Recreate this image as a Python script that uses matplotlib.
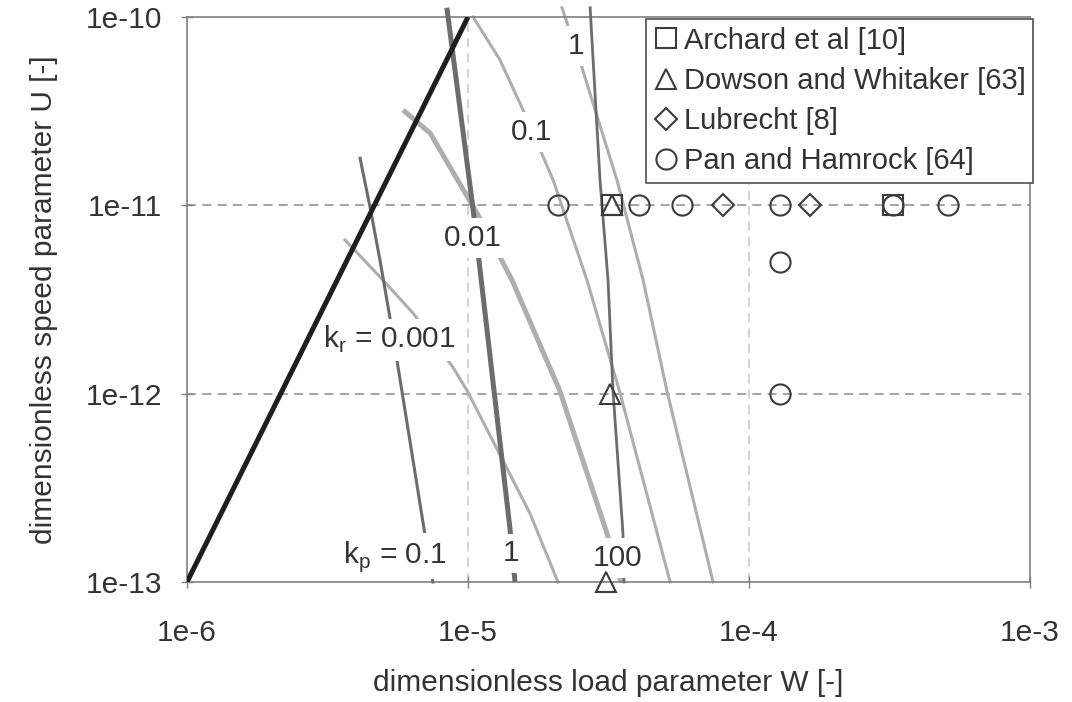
import matplotlib
matplotlib.use("Agg")
import matplotlib.pyplot as plt
from matplotlib.ticker import NullLocator

plt.rcParams['font.family'] = ['Liberation Sans', 'DejaVu Sans']
plt.rcParams['font.size'] = 21.5
plt.rcParams['text.color'] = '#333333'
plt.rcParams['axes.labelcolor'] = '#333333'
plt.rcParams['xtick.color'] = '#333333'
plt.rcParams['ytick.color'] = '#333333'

# ── Data ───────────────────────────────────────────────────
x_ticks = [1e-6, 1e-5, 1e-4, 1e-3]
x_ticklabels = ['1e-6', '1e-5', '1e-4', '1e-3']
y_ticks = [1e-13, 1e-12, 1e-11, 1e-10]
y_ticklabels = ['1e-13', '1e-12', '1e-11', '1e-10']

# boundary line
bound_W = [1e-6, 1e-5]
bound_U = [1e-13, 1e-10]

# k_p curves (dark)
kp01_W = [4.13e-6, 4.48e-6, 4.86e-6, 5.24e-6, 5.64e-6, 6.92e-6, 7.5e-6]
kp01_U = [1.78e-11, 9.8e-12, 5.13e-12, 2.68e-12, 1.38e-12, 2.06e-13, 1e-13]
kp1_W = [8.41e-6, 1.04e-5, 1.41e-5, 1.47e-5]
kp1_U = [1.12e-10, 9.8e-12, 1.93e-13, 1e-13]
kp100_W = [2.72e-5, 2.95e-5, 3.15e-5, 3.28e-5, 3.56e-5, 3.59e-5]
kp100_U = [1.12e-10, 1.36e-11, 4.01e-12, 1.04e-12, 1.82e-13, 1e-13]

# k_r curves (light)
kr0001_W = [3.65e-6, 4.98e-6, 6.37e-6, 8.84e-6, 9.92e-6, 1.66e-5, 2.09e-5]
kr0001_U = [6.55e-12, 4.01e-12, 2.68e-12, 1.38e-12, 1.04e-12, 2.32e-13, 1e-13]
kr001_W = [5.87e-6, 7.33e-6, 1.076e-5, 1.434e-5, 2.12e-5, 3.12e-5, 3.50e-5]
kr001_U = [3.21e-11, 2.42e-11, 9.1e-12, 4.01e-12, 1.04e-12, 1.82e-13, 1e-13]
kr01_W = [1.043e-5, 1.30e-5, 1.57e-5, 2.01e-5, 2.65e-5, 3.48e-5, 5.24e-5]
kr01_U = [1e-10, 5.91e-11, 3.21e-11, 1.36e-11, 4.01e-12, 1.0e-12, 1e-13]
kr1_W = [2.16e-5, 2.54e-5, 3.39e-5, 4.20e-5, 5.10e-5, 7.45e-5]
kr1_U = [1.12e-10, 5.43e-11, 1.36e-11, 4.01e-12, 1.04e-12, 1e-13]

# literature points
archard_W = [3.25e-5, 3.25e-4]
archard_U = [1e-11, 1e-11]
dowson_W = [3.25e-5, 3.2e-5, 3.1e-5]
dowson_U = [1e-11, 1e-12, 1e-13]
lubrecht_W = [8.1e-5, 1.65e-4]
lubrecht_U = [1e-11, 1e-11]
pan_W = [2.09e-5, 4.05e-5, 5.78e-5, 1.29e-4, 3.25e-4, 5.1e-4, 1.29e-4, 1.29e-4]
pan_U = [1e-11, 1e-11, 1e-11, 1e-11, 1e-11, 1e-11, 5e-12, 1e-12]

# ── Plot ───────────────────────────────────────────────────
fig = plt.figure(figsize=(10.72, 7.02), dpi=100)
ax = fig.add_axes([187/1072, 1 - 582/702, 843/1072, 565/702])
ax.set_xscale('log')
ax.set_yscale('log')
ax.set_xlim(1e-6, 1e-3)
ax.set_ylim(1e-13, 1e-10)

# grid
for yv in [1e-12, 1e-11]:
    ax.axhline(yv, color='#8c8c8c', lw=1.1, ls=(0, (6, 4)), zorder=1)
for xv in [1e-5, 1e-4]:
    ax.axvline(xv, color='#c8c8c8', lw=1.1, ls=(0, (6, 4)), zorder=1)

dark = '#6c6c6c'
light = '#aeaeae'

ax.plot(bound_W, bound_U, color='#1e1e1e', lw=3.6, zorder=6, solid_capstyle='butt')

ax.plot(kr0001_W, kr0001_U, color=light, lw=2.2, zorder=2, clip_on=False)
ax.plot(kr001_W, kr001_U, color=light, lw=3.6, zorder=2, clip_on=False, solid_capstyle='butt')
ax.plot(kr01_W, kr01_U, color=light, lw=2.2, zorder=2, clip_on=False)
ax.plot(kr1_W, kr1_U, color=light, lw=2.2, zorder=2, clip_on=False)

ax.plot(kp01_W, kp01_U, color=dark, lw=2.2, zorder=3, clip_on=False)
ax.plot(kp1_W, kp1_U, color=dark, lw=3.6, zorder=3, clip_on=False, solid_capstyle='butt')
ax.plot(kp100_W, kp100_U, color=dark, lw=2.0, zorder=4, clip_on=False)

# curve labels (white boxes break the lines, as in the original)
box = dict(facecolor='white', edgecolor='none', pad=4)
ax.text(5.24e-6, 1.93e-12, r'k$_\mathregular{r}$ = 0.001', ha='center', va='center', bbox=box, zorder=5)
ax.text(1.04e-5, 6.7e-12, '0.01', ha='center', va='center', bbox=box, zorder=5)
ax.text(1.68e-5, 2.45e-11, '0.1', ha='center', va='center', bbox=box, zorder=5)
ax.text(2.42e-5, 7.0e-11, '1', ha='center', va='center', bbox=box, zorder=3.5)
ax.text(5.5e-6, 1.37e-13, r'k$_\mathregular{p}$ = 0.1', ha='center', va='center', bbox=box, zorder=5)
ax.text(1.42e-5, 1.42e-13, '1', ha='center', va='center', bbox=box, zorder=5)
ax.text(3.42e-5, 1.34e-13, '100', ha='center', va='center', bbox=box, zorder=5)

mk = dict(ls='none', ms=14.5, mfc='none', mec='#3c3c3c', mew=1.5, clip_on=False, zorder=7)
ax.plot(archard_W, archard_U, marker='s', label='Archard et al [10]', **mk)
ax.plot(dowson_W, dowson_U, marker='^', label='Dowson and Whitaker [63]', **mk)
ax.plot(lubrecht_W, lubrecht_U, marker='D', label='Lubrecht [8]', **{**mk, 'ms': 11})
ax.plot(pan_W, pan_U, marker='o', label='Pan and Hamrock [64]', **mk)

ax.set_xticks(x_ticks)
ax.set_xticklabels(x_ticklabels)
ax.set_yticks(y_ticks)
ax.set_yticklabels(y_ticklabels)
ax.xaxis.set_minor_locator(NullLocator())
ax.yaxis.set_minor_locator(NullLocator())
ax.tick_params(direction='inout', length=9, width=1, color='#808080')
ax.tick_params(axis='x', pad=22)
ax.tick_params(axis='y', pad=13.5)
for sp in ax.spines.values():
    sp.set_color('#808080')
    sp.set_linewidth(1.2)

ax.set_xlabel('dimensionless load parameter W [-]', labelpad=16)
ax.set_ylabel('dimensionless speed parameter U [-]', labelpad=20)

leg = ax.legend(loc='upper right', bbox_to_anchor=(1.004, 0.996), borderaxespad=0,
                fancybox=False, framealpha=1, edgecolor='#505050', fontsize=21,
                handlelength=0.85, handletextpad=0.2, labelspacing=0.42, borderpad=0.25)
leg.get_frame().set_linewidth(1.2)
leg.set_zorder(8)

fig.savefig('out.png', dpi=100)
